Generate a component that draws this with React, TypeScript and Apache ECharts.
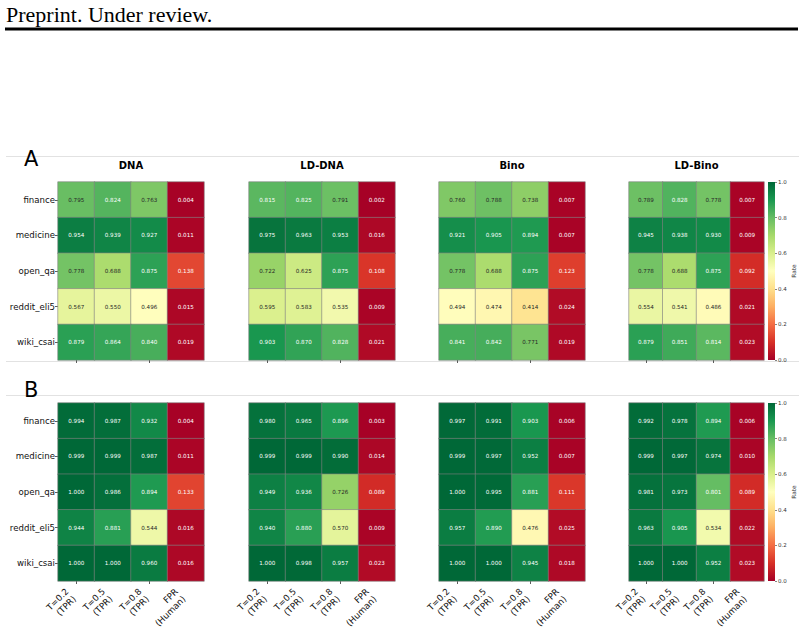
import React, { useEffect, useRef } from "react";
import * as echarts from "echarts";

const domains = ["finance", "medicine", "open_qa", "reddit_eli5", "wiki_csai"];
const metrics = ["T=0.2\n(TPR)", "T=0.5\n(TPR)", "T=0.8\n(TPR)", "FPR\n(Human)"];
const methods = ["DNA", "LD-DNA", "Bino", "LD-Bino"];
const panelLabels = ["A", "B"];
const colorbarTicks = [0, 0.2, 0.4, 0.6, 0.8, 1.0];

// Panel A
const aDNA = [
  [0.795, 0.824, 0.763, 0.004],
  [0.954, 0.939, 0.927, 0.011],
  [0.778, 0.688, 0.875, 0.138],
  [0.567, 0.55, 0.496, 0.015],
  [0.879, 0.864, 0.84, 0.019],
];
const aLDDNA = [
  [0.815, 0.825, 0.791, 0.002],
  [0.975, 0.963, 0.953, 0.016],
  [0.722, 0.625, 0.875, 0.108],
  [0.595, 0.583, 0.535, 0.009],
  [0.903, 0.87, 0.828, 0.021],
];
const aBino = [
  [0.76, 0.788, 0.738, 0.007],
  [0.921, 0.905, 0.894, 0.007],
  [0.778, 0.688, 0.875, 0.123],
  [0.494, 0.474, 0.414, 0.024],
  [0.841, 0.842, 0.771, 0.019],
];
const aLDBino = [
  [0.789, 0.828, 0.778, 0.007],
  [0.945, 0.938, 0.93, 0.009],
  [0.778, 0.688, 0.875, 0.092],
  [0.554, 0.541, 0.486, 0.021],
  [0.879, 0.851, 0.814, 0.023],
];
// Panel B
const bDNA = [
  [0.994, 0.987, 0.932, 0.004],
  [0.999, 0.999, 0.987, 0.011],
  [1.0, 0.986, 0.894, 0.133],
  [0.944, 0.881, 0.544, 0.016],
  [1.0, 1.0, 0.96, 0.016],
];
const bLDDNA = [
  [0.98, 0.965, 0.896, 0.003],
  [0.999, 0.999, 0.99, 0.014],
  [0.949, 0.936, 0.726, 0.089],
  [0.94, 0.88, 0.57, 0.009],
  [1.0, 0.998, 0.957, 0.023],
];
const bBino = [
  [0.997, 0.991, 0.903, 0.006],
  [0.999, 0.997, 0.952, 0.007],
  [1.0, 0.995, 0.881, 0.111],
  [0.957, 0.89, 0.476, 0.025],
  [1.0, 1.0, 0.945, 0.018],
];
const bLDBino = [
  [0.992, 0.978, 0.894, 0.006],
  [0.999, 0.997, 0.974, 0.01],
  [0.981, 0.973, 0.801, 0.089],
  [0.963, 0.905, 0.534, 0.022],
  [1.0, 1.0, 0.952, 0.023],
];

const panels = [
  [aDNA, aLDDNA, aBino, aLDBino],
  [bDNA, bLDDNA, bBino, bLDBino],
];

const RdYlGn = [
  "#a50026", "#d73027", "#f46d43", "#fdae61", "#fee08b", "#ffffbf",
  "#d9ef8b", "#a6d96a", "#66bd63", "#1a9850", "#006837",
];

function hexToRgb(h: string) {
  return [parseInt(h.slice(1, 3), 16), parseInt(h.slice(3, 5), 16), parseInt(h.slice(5, 7), 16)];
}
function cmap(v: number) {
  const t = Math.max(0, Math.min(1, v)) * (RdYlGn.length - 1);
  const i = Math.min(Math.floor(t), RdYlGn.length - 2);
  const f = t - i;
  const a = hexToRgb(RdYlGn[i]);
  const b = hexToRgb(RdYlGn[i + 1]);
  return a.map((x, k) => x + (b[k] - x) * f);
}
function textColor(v: number) {
  const rgb = cmap(v).map((c) => {
    const s = c / 255;
    return s <= 0.03928 ? s / 12.92 : Math.pow((s + 0.055) / 1.055, 2.4);
  });
  const lum = 0.2126 * rgb[0] + 0.7152 * rgb[1] + 0.0722 * rgb[2];
  return lum > 0.408 ? "#262626" : "#ffffff";
}

const FONT = "DejaVu Sans";

export default function App() {
  const ref = useRef<HTMLDivElement>(null);
  useEffect(() => {
    document.body.style.margin = "0";
    const chart = echarts.init(ref.current!, null, { renderer: "svg" });

    const colLefts = [58, 249, 439, 629];
    const colWidths = [146, 146, 146, 135];
    const rowTops = [182, 403];
    const H = 178;

    const grids: any[] = [];
    const xAxes: any[] = [];
    const yAxes: any[] = [];
    const series: any[] = [];

    panels.forEach((row, r) => {
      row.forEach((mat, c) => {
        const gi = grids.length;
        grids.push({ left: colLefts[c], top: rowTops[r], width: colWidths[c], height: H });
        xAxes.push({
          gridIndex: gi,
          type: "category",
          data: metrics,
          position: "bottom",
          axisLine: { show: false },
          axisTick: { show: true, length: 3, alignWithLabel: true, lineStyle: { color: "#333", width: 0.8 } },
          axisLabel: { show: false },
          splitLine: { show: false },
        });
        yAxes.push({
          gridIndex: gi,
          type: "category",
          data: domains,
          inverse: true,
          axisLine: { show: false },
          axisTick: { show: c === 0, length: 3, alignWithLabel: true, lineStyle: { color: "#333", width: 0.8 } },
          axisLabel: { show: c === 0, fontSize: 8.6, fontFamily: FONT, color: "#111", margin: 3 },
          splitLine: { show: false },
        });
        const data: any[] = [];
        mat.forEach((vals, yi) =>
          vals.forEach((v, xi) => {
            data.push({ value: [xi, yi, v], label: { color: textColor(v) } });
          })
        );
        series.push({
          type: "heatmap",
          xAxisIndex: gi,
          yAxisIndex: gi,
          data,
          itemStyle: { borderColor: "#7f7f7f", borderWidth: 0.6 },
          label: {
            show: true,
            fontSize: 5.6,
            fontFamily: FONT,
            formatter: (p: any) => p.value[2].toFixed(3),
          },
          emphasis: { disabled: true },
        });
      });
    });

    // colorbars
    const cbLeft = 768;
    const cbWidth = 7;
    rowTops.forEach((top) => {
      const gi = grids.length;
      grids.push({ left: cbLeft, top, width: cbWidth, height: H });
      xAxes.push({ gridIndex: gi, type: "category", data: [""], show: false });
      yAxes.push({
        gridIndex: gi,
        type: "value",
        min: 0,
        max: 1,
        interval: 0.2,
        position: "right",
        axisLine: { show: false },
        axisTick: { show: true, length: 2, lineStyle: { color: "#333", width: 0.6 } },
        axisLabel: {
          fontSize: 5.5,
          fontFamily: FONT,
          color: "#333",
          margin: 3,
          formatter: (v: number) => (colorbarTicks.includes(Math.round(v * 10) / 10) ? v.toFixed(1) : ""),
        },
        splitLine: { show: false },
        name: "Rate",
        nameLocation: "middle",
        nameRotate: 90,
        nameGap: 16,
        nameTextStyle: { fontSize: 5.8, fontFamily: FONT, color: "#333" },
      });
    });

    const gradStops = RdYlGn.slice()
      .reverse()
      .map((col, i) => ({ offset: i / (RdYlGn.length - 1), color: col }));

    chart.setOption({
      animation: false,
      backgroundColor: "#ffffff",
      grid: grids,
      xAxis: xAxes,
      yAxis: yAxes,
      visualMap: {
        type: "continuous",
        show: false,
        min: 0,
        max: 1,
        seriesIndex: [0, 1, 2, 3, 4, 5, 6, 7],
        inRange: { color: RdYlGn },
      },
      series,
    });

    const graphics: any[] = [
      {
        type: "text",
        x: 6,
        y: 14,
        style: {
          text: "Preprint. Under review.",
          font: '22px "Liberation Serif"',
          fill: "#000",
          textVerticalAlign: "middle",
          verticalAlign: "middle",
        },
      },
      { type: "rect", shape: { x: 5, y: 27.5, width: 793, height: 3 }, style: { fill: "#000" } },
      { type: "line", shape: { x1: 6, y1: 156.5, x2: 799, y2: 156.5 }, style: { stroke: "#e2e2e2", lineWidth: 1 } },
      { type: "line", shape: { x1: 6, y1: 361.5, x2: 799, y2: 361.5 }, style: { stroke: "#e2e2e2", lineWidth: 1 } },
      { type: "line", shape: { x1: 6, y1: 395.5, x2: 799, y2: 395.5 }, style: { stroke: "#e2e2e2", lineWidth: 1 } },
      {
        type: "text",
        x: 24,
        y: 159,
        style: { text: panelLabels[0], font: `21px "${FONT}"`, fill: "#000", textVerticalAlign: "middle", verticalAlign: "middle" },
      },
      {
        type: "text",
        x: 24,
        y: 390,
        style: { text: panelLabels[1], font: `21px "${FONT}"`, fill: "#000", textVerticalAlign: "middle", verticalAlign: "middle" },
      },
    ];
    methods.forEach((m, c) => {
      graphics.push({
        type: "text",
        x: colLefts[c] + colWidths[c] / 2,
        y: 165,
        style: {
          text: m,
          font: `bold 10px "${FONT}"`,
          fill: "#000",
          textAlign: "center",
          align: "center",
          textVerticalAlign: "middle",
          verticalAlign: "middle",
        },
      });
    });
    rowTops.forEach((top) => {
      graphics.push({
        type: "rect",
        z: -1,
        shape: { x: cbLeft, y: top, width: cbWidth, height: H },
        style: {
          fill: { type: "linear", x: 0, y: 0, x2: 0, y2: 1, colorStops: gradStops },
        },
      });
    });
    // rotated x tick labels for the bottom row (matplotlib-style, rotation 45, right aligned):
    // each label is a rotated group; its lines are laid out inside the group's local frame
    const axisBottom = rowTops[1] + H;
    const lh = 10.6;
    for (let c = 0; c < 4; c++) {
      const gi = 4 + c;
      metrics.forEach((m, i) => {
        const px = chart.convertToPixel({ xAxisIndex: gi } as any, i as any) as any;
        const tx = typeof px === "number" ? px : px[0];
        const lines = m.split("\n");
        graphics.push({
          type: "group",
          x: tx - 5.5,
          y: axisBottom + 12.7,
          rotation: Math.PI / 4,
          children: lines.map((ln, k) => ({
            type: "text",
            x: 0,
            y: (k - (lines.length - 1) / 2) * lh,
            style: {
              text: ln,
              font: `8.8px "${FONT}"`,
              fill: "#111",
              textAlign: "right",
              align: "right",
              textVerticalAlign: "middle",
              verticalAlign: "middle",
            },
          })),
        });
      });
    }

    chart.setOption({ graphic: graphics });
    return () => chart.dispose();
  }, []);
  return <div ref={ref} style={{ width: 805, height: 629 }} />;
}
